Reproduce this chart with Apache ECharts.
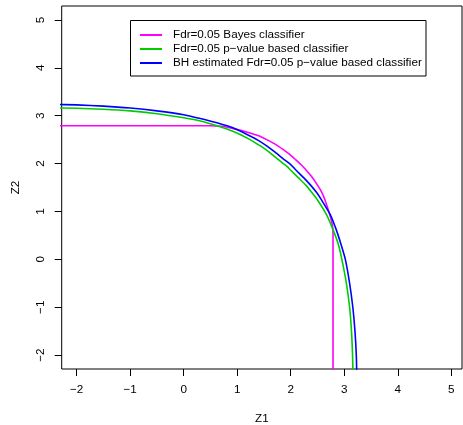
<!DOCTYPE html>
<html>
<head>
<meta charset="utf-8">
<script src="https://cdn.jsdelivr.net/npm/echarts@6/dist/echarts.min.js"></script>
<style>
html,body{margin:0;padding:0;background:#fff;}
#chart{width:463px;height:425px;}
</style>
</head>
<body>
<div id="chart"></div>
<script>
// ---- data ----
const xTicks = [-2, -1, 0, 1, 2, 3, 4, 5];
const yTicks = [-2, -1, 0, 1, 2, 3, 4, 5];
const xName = 'Z1';
const yName = 'Z2';
const seriesNames = [
  'Fdr=0.05 Bayes classifier',
  'Fdr=0.05 p-value based classifier',
  'BH estimated Fdr=0.05 p-value based classifier'
];
const seriesColors = ['#FF00FF', '#00CD00', '#0000FF'];

// Bayes classifier boundary
const bayesX = [-2.5, 0.0, 0.5, 0.7, 0.93, 1.24, 1.40, 1.55, 1.70, 1.86, 1.98, 2.086, 2.19, 2.29, 2.41, 2.50, 2.58, 2.64, 2.73, 2.78, 2.79, 2.79];
const bayesY = [2.79, 2.79, 2.79, 2.78, 2.73, 2.64, 2.58, 2.50, 2.41, 2.29, 2.19, 2.086, 1.98, 1.86, 1.70, 1.55, 1.40, 1.24, 0.93, 0.70, 0.50, -2.5];

// p-value based classifier boundary
const pvalX = [-2.5, -2.0, -1.5, -1.0, -0.5, 0.0, 0.31, 0.62, 0.93, 1.24, 1.40, 1.55, 1.70, 1.86, 1.934, 2.00, 2.145, 2.28, 2.39, 2.50, 2.67, 2.79, 2.89, 2.955, 3.04, 3.10, 3.135, 3.155, 3.165];
const pvalY = [3.165, 3.155, 3.135, 3.10, 3.04, 2.955, 2.89, 2.79, 2.67, 2.50, 2.39, 2.28, 2.145, 2.00, 1.934, 1.86, 1.70, 1.55, 1.40, 1.24, 0.93, 0.62, 0.31, 0.0, -0.5, -1.0, -1.5, -2.0, -2.5];

// BH estimated p-value based classifier boundary
const bhX = [-2.5, -2.0, -1.5, -1.0, -0.5, 0.0, 0.31, 0.62, 0.93, 1.24, 1.40, 1.55, 1.70, 1.86, 1.99, 2.10, 2.245, 2.37, 2.48, 2.575, 2.74, 2.85, 2.94, 3.02, 3.10, 3.16, 3.20, 3.225, 3.235];
const bhY = [3.235, 3.225, 3.20, 3.16, 3.10, 3.02, 2.94, 2.85, 2.74, 2.575, 2.48, 2.37, 2.245, 2.10, 1.99, 1.86, 1.70, 1.55, 1.40, 1.24, 0.93, 0.62, 0.31, 0.0, -0.5, -1.0, -1.5, -2.0, -2.5];

const xs = [bayesX, pvalX, bhX];
const ys = [bayesY, pvalY, bhY];

const FONT = '"Liberation Sans", Arial, Helvetica, sans-serif';
const minus = v => String(v).replace(/-/g, '\u2212');

const chart = echarts.init(document.getElementById('chart'), null, {renderer: 'canvas'});

const series = seriesNames.map((name, i) => ({
  name: minus(name),
  type: 'line',
  data: xs[i].map((x, k) => [x, ys[i][k]]),
  showSymbol: false,
  smooth: 0.2,
  clip: true,
  lineStyle: {color: seriesColors[i], width: 1.6},
  itemStyle: {color: seriesColors[i]},
  z: 3 + i
}));

chart.setOption({
  animation: false,
  backgroundColor: '#fff',
  grid: {
    left: 61.7, right: 1, top: 6, bottom: 56,
    outerBoundsMode: 'none',
    containLabel: false,
    show: true, borderColor: '#000', borderWidth: 1, backgroundColor: 'transparent'
  },
  xAxis: {
    type: 'value',
    min: -2.28, max: 5.2,
    name: xName,
    nameLocation: 'middle',
    nameGap: 44,
    nameTextStyle: {fontFamily: FONT, fontSize: 11.7, color: '#000'},
    axisLine: {show: false, onZero: false},
    splitLine: {show: false},
    axisTick: {show: true, inside: false, length: 7, customValues: xTicks, lineStyle: {color: '#000', width: 1}},
    axisLabel: {
      show: true, customValues: xTicks, margin: 15,
      fontFamily: FONT, fontSize: 11.7, color: '#000',
      formatter: v => minus(v)
    }
  },
  yAxis: {
    type: 'value',
    min: -2.29, max: 5.29,
    name: yName,
    nameLocation: 'middle',
    nameGap: 40,
    nameRotate: 90,
    nameTextStyle: {fontFamily: FONT, fontSize: 11.7, color: '#000'},
    axisLine: {show: false, onZero: false},
    splitLine: {show: false},
    axisTick: {show: true, inside: false, length: 7, customValues: yTicks, lineStyle: {color: '#000', width: 1}},
    axisLabel: {
      show: true, customValues: yTicks, margin: 15, rotate: 90,
      fontFamily: FONT, fontSize: 11.7, color: '#000',
      formatter: v => minus(v)
    }
  },
  legend: {
    show: true,
    orient: 'vertical',
    left: 140,
    top: 28,
    padding: 0,
    itemGap: 0,
    itemWidth: 22,
    itemHeight: 2,
    icon: 'rect',
    selectedMode: false,
    textStyle: {fontFamily: FONT, fontSize: 11.7, color: '#000', lineHeight: 14, padding: [0, 0, 0, 6]},
    data: seriesNames.map(minus)
  },
  graphic: [{
    type: 'rect',
    shape: {x: 130.5, y: 20.5, width: 295.5, height: 55.5},
    style: {fill: 'none', stroke: '#000', lineWidth: 1},
    silent: true,
    z: 10
  }],
  series: series
});
</script>
</body>
</html>
